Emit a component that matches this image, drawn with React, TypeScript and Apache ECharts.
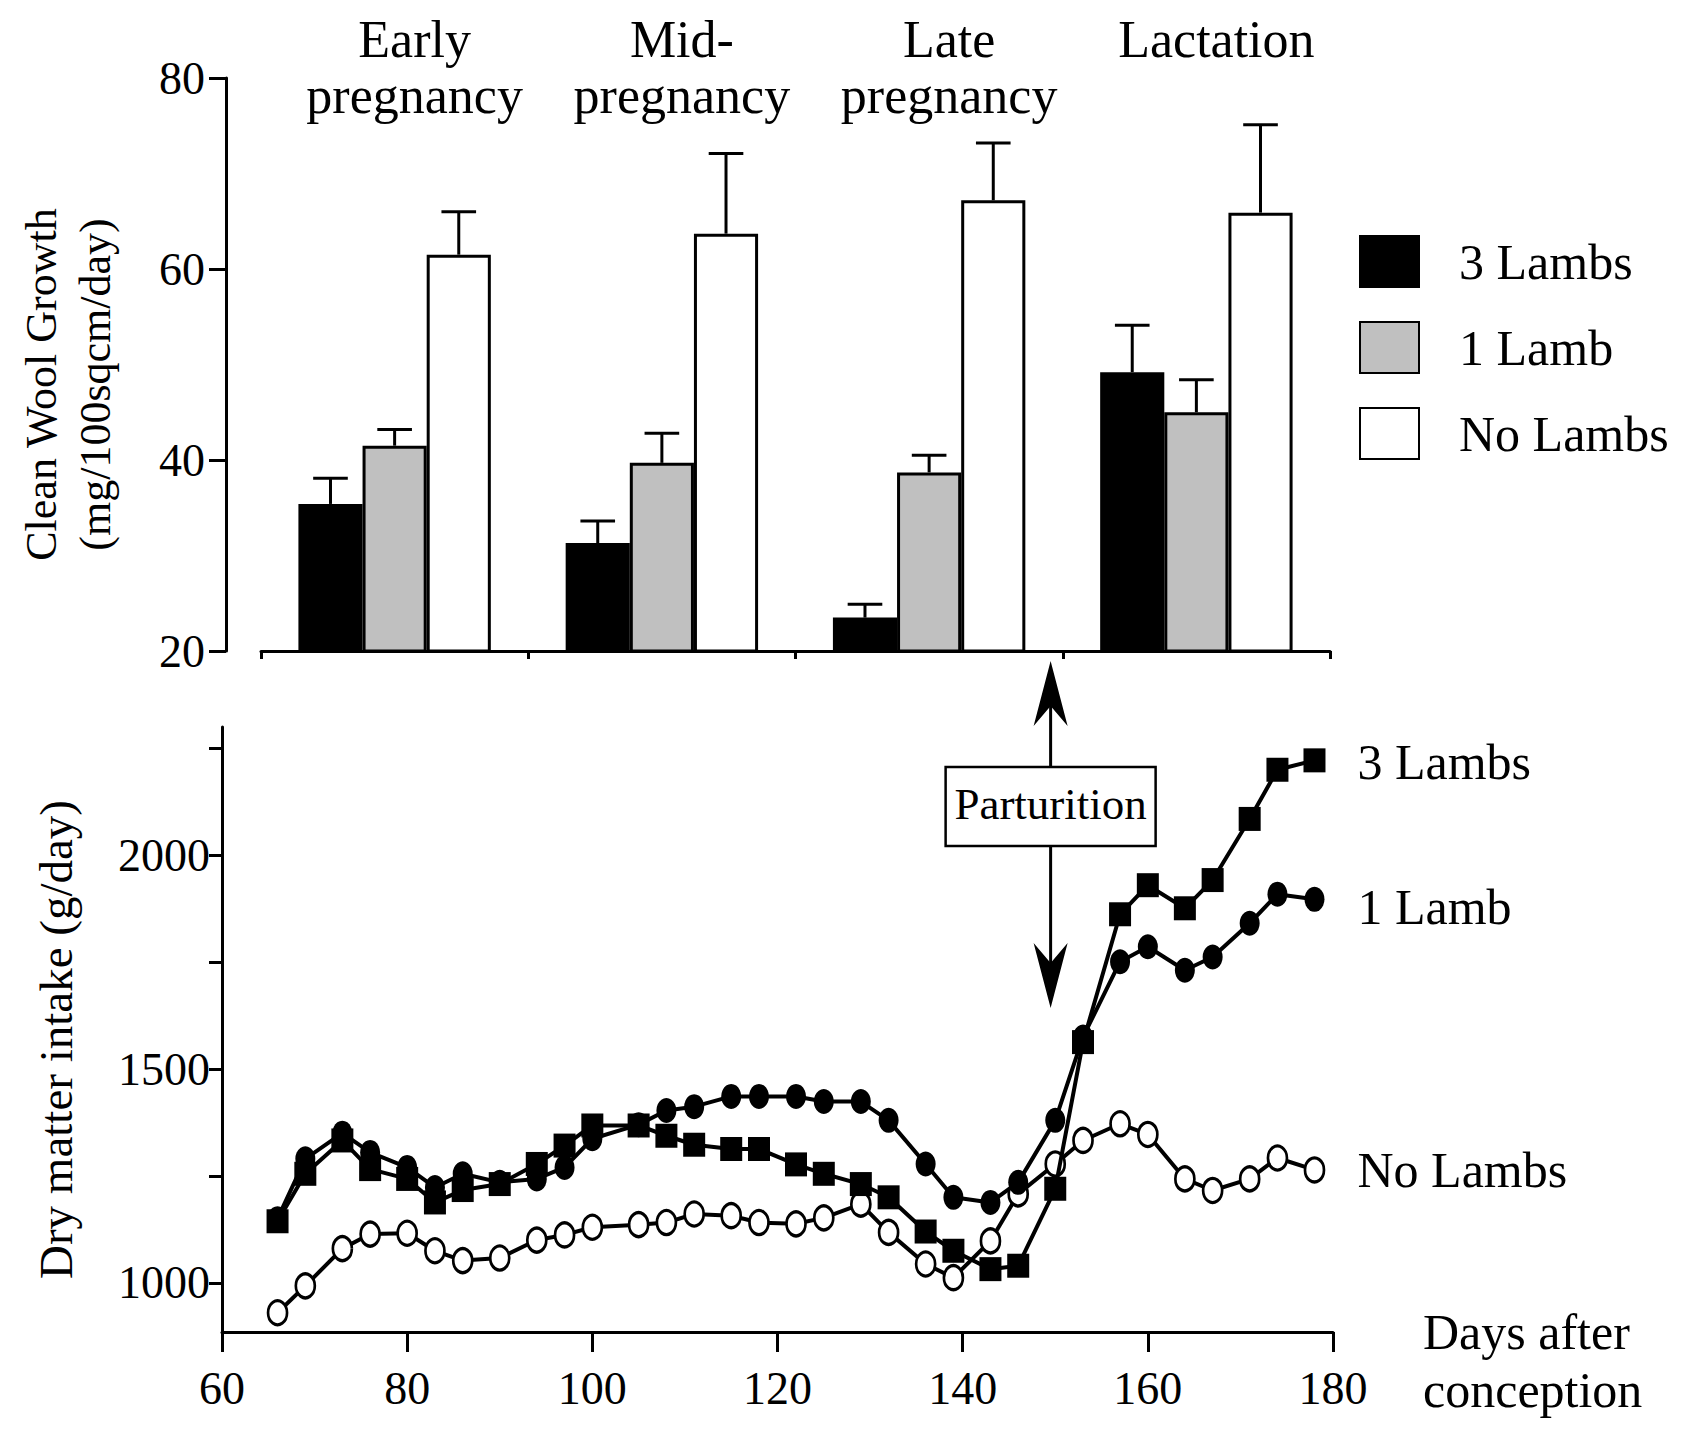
import React, { useEffect, useRef } from 'react';
import * as echarts from 'echarts';

// ---------- Top panel: clean wool growth (mg/100sqcm/day) ----------
const phases = ['Early\npregnancy', 'Mid-\npregnancy', 'Late\npregnancy', 'Lactation'];
const woolThreeLambs = [35.4, 31.3, 23.5, 49.2];
const woolThreeLambsSE = [2.7, 2.3, 1.4, 4.9];
const woolOneLamb = [41.5, 39.7, 38.7, 45.0];
const woolOneLambSE = [1.7, 3.1, 1.8, 3.4];
const woolNoLambs = [61.5, 63.7, 67.2, 65.9];
const woolNoLambsSE = [4.5, 8.4, 6.0, 9.2];
const groupNames = ['3 Lambs', '1 Lamb', 'No Lambs'];

// ---------- Bottom panel: dry matter intake (g/day) ----------
const days = [66, 69, 73, 76, 80, 83, 86, 90, 94, 97, 100, 105, 108, 111, 115, 118, 122, 125, 129, 132, 136, 139, 143, 146, 150, 153, 157, 160, 164, 167, 171, 174, 178];
const intakeThreeLambs = [1144, 1255, 1333, 1266, 1243, 1188, 1217, 1231, 1278, 1321, 1368, 1368, 1344, 1323, 1313, 1313, 1277, 1255, 1231, 1200, 1120, 1075, 1032, 1040, 1220, 1563, 1862, 1930, 1876, 1942, 2085, 2200, 2222];
const intakeOneLamb = [1150, 1290, 1350, 1305, 1270, 1223, 1255, 1235, 1243, 1270, 1337, 1370, 1403, 1412, 1436, 1436, 1436, 1424, 1424, 1380, 1278, 1200, 1188, 1235, 1380, 1575, 1751, 1786, 1731, 1762, 1841, 1909, 1897];
const intakeNoLambs = [930, 993, 1080, 1114, 1116, 1075, 1052, 1058, 1100, 1112, 1130, 1136, 1141, 1161, 1157, 1141, 1138, 1152, 1184, 1118, 1044, 1012, 1098, 1208, 1278, 1333, 1372, 1347, 1243, 1216, 1243, 1292, 1264];
const intakeTickValues = [1000, 1250, 1500, 1750, 2000, 2250];
const intakeLabelValues = [1000, 1500, 2000];
const parturitionDay = 149.5;

const FONT = "'Liberation Serif', 'Times New Roman', serif";
const W = 1694;
const H = 1434;
const TOP_GRID = { left: 261, top: 78, right: 364, bottom: 783 };
const LOW_GRID = { left: 222, top: 727, right: 361, bottom: 102 };
const BAR_CAT_GAP = 0.28;

function errorSeries(k: number, means: number[], se: number[]) {
  return {
    type: 'custom',
    name: groupNames[k] + ' SE',
    xAxisIndex: 0,
    yAxisIndex: 0,
    silent: true,
    z: 5,
    encode: { x: 0, y: [1, 2] },
    data: means.map((m, i) => [i, m, m + se[i]]),
    renderItem: (params: any, api: any) => {
      const cat = api.value(0);
      const top = api.value(1);
      const err = api.value(2);
      const band = api.size([1, 0])[0];
      const bw = (band * (1 - BAR_CAT_GAP)) / 3;
      const p0 = api.coord([cat, top]);
      const p1 = api.coord([cat, err]);
      const x = p0[0] + (k - 1) * bw;
      const cap = bw * 0.27;
      const st = { stroke: '#000', lineWidth: 3, fill: null };
      return {
        type: 'group',
        children: [
          { type: 'line', shape: { x1: x, y1: p0[1], x2: x, y2: p1[1] }, style: st },
          { type: 'line', shape: { x1: x - cap, y1: p1[1], x2: x + cap, y2: p1[1] }, style: st },
        ],
      };
    },
  };
}

function barSeries(k: number, data: number[], color: string) {
  return {
    type: 'bar',
    name: groupNames[k],
    xAxisIndex: 0,
    yAxisIndex: 0,
    data,
    barGap: '0%',
    barCategoryGap: BAR_CAT_GAP * 100 + '%',
    silent: true,
    itemStyle: { color, borderColor: '#000', borderWidth: 3 },
    emphasis: { disabled: true },
  };
}

function lineSeries(
  label: string,
  values: number[],
  symbol: string,
  size: number[],
  fill: string,
  z: number,
  labelOffset: number[]
) {
  return {
    type: 'line',
    name: label + ' intake',
    xAxisIndex: 2,
    yAxisIndex: 1,
    data: days.map((d, i) => [d, values[i]]),
    symbol,
    symbolSize: size,
    showAllSymbol: true,
    silent: true,
    z,
    lineStyle: { color: '#000', width: 4 },
    itemStyle: { color: fill, borderColor: '#000', borderWidth: fill === '#fff' ? 3 : 0 },
    emphasis: { disabled: true },
    endLabel: {
      show: true,
      formatter: label,
      distance: 43,
      offset: labelOffset,
      fontSize: 50,
      fontFamily: FONT,
      color: '#000',
    },
  };
}

export default function App() {
  const ref = useRef<HTMLDivElement>(null);

  useEffect(() => {
    const chart = echarts.init(ref.current!, null, { renderer: 'svg' });
    const axisLine = { show: true, lineStyle: { color: '#000', width: 3 } };
    const tickLbl = { color: '#000', fontSize: 46, fontFamily: FONT, formatter: (v: number) => String(v) };

    const option: any = {
      animation: false,
      backgroundColor: '#fff',
      textStyle: { fontFamily: FONT, color: '#000' },
      grid: [
        { ...TOP_GRID, containLabel: false, outerBoundsMode: 'none' },
        { ...LOW_GRID, containLabel: false, outerBoundsMode: 'none' },
      ],
      legend: {
        data: groupNames,
        orient: 'vertical',
        left: 1359,
        top: 235,
        padding: 0,
        itemWidth: 59,
        itemHeight: 51,
        itemGap: 33,
        icon: 'rect',
        selectedMode: false,
        textStyle: { fontSize: 50, fontFamily: FONT, color: '#000', padding: [0, 0, 0, 35] },
      },
      xAxis: [
        {
          type: 'category',
          gridIndex: 0,
          data: phases,
          position: 'bottom',
          axisLine,
          axisTick: { show: true, length: 8, lineStyle: { color: '#000', width: 3 } },
          axisLabel: { show: false },
          splitLine: { show: false },
        },
        {
          type: 'category',
          gridIndex: 0,
          data: phases,
          position: 'top',
          axisLine: { show: false },
          axisTick: { show: false },
          splitLine: { show: false },
          axisLabel: {
            show: true,
            interval: 0,
            verticalAlign: 'top',
            margin: 67,
            lineHeight: 56,
            fontSize: 52,
            fontFamily: FONT,
            color: '#000',
            padding: [0, 0, 0, 40],
          },
        },
        {
          type: 'value',
          gridIndex: 1,
          min: 60,
          max: 180,
          interval: 20,
          axisLine,
          axisTick: { show: true, length: 20, lineStyle: { color: '#000', width: 3 } },
          axisLabel: { ...tickLbl, margin: 33 },
          splitLine: { show: false },
          name: '\nDays after\nconception',
          nameLocation: 'end',
          nameGap: 90,
          nameMoveOverlap: false,
          nameTextStyle: {
            fontSize: 50,
            fontFamily: FONT,
            color: '#000',
            lineHeight: 58,
            align: 'left',
            verticalAlign: 'middle',
          },
        },
      ],
      yAxis: [
        {
          type: 'value',
          gridIndex: 0,
          min: 20,
          max: 80,
          interval: 20,
          offset: 35,
          axisLine,
          axisTick: { show: true, length: 17, lineStyle: { color: '#000', width: 3 } },
          axisLabel: { ...tickLbl, margin: 21 },
          splitLine: { show: false },
          name: 'Clean Wool Growth\n(mg/100sqcm/day)',
          nameLocation: 'middle',
          nameRotate: 90,
          nameGap: 104,
          nameMoveOverlap: false,
          nameTextStyle: {
            fontSize: 44,
            fontFamily: FONT,
            color: '#000',
            lineHeight: 54,
            padding: [0, 40, 0, 0],
          },
        },
        {
          type: 'value',
          gridIndex: 1,
          min: 885,
          max: 2300,
          axisLine,
          axisTick: {
            show: true,
            length: 13,
            customValues: intakeTickValues,
            lineStyle: { color: '#000', width: 3 },
          },
          axisLabel: { ...tickLbl, margin: 12, customValues: intakeLabelValues },
          splitLine: { show: false },
          name: 'Dry matter intake (g/day)',
          nameLocation: 'middle',
          nameRotate: 90,
          nameGap: 139,
          nameMoveOverlap: false,
          nameTextStyle: {
            fontSize: 47,
            fontFamily: FONT,
            color: '#000',
            lineHeight: 54,
            padding: [0, 20, 0, 0],
          },
        },
      ],
      series: [
        barSeries(0, woolThreeLambs, '#000000'),
        barSeries(1, woolOneLamb, '#c0c0c0'),
        barSeries(2, woolNoLambs, '#ffffff'),
        errorSeries(0, woolThreeLambs, woolThreeLambsSE),
        errorSeries(1, woolOneLamb, woolOneLambSE),
        errorSeries(2, woolNoLambs, woolNoLambsSE),
        lineSeries('No Lambs', intakeNoLambs, 'circle', [19, 24], '#fff', 3, [0, 0]),
        lineSeries('1 Lamb', intakeOneLamb, 'circle', [20, 25], '#000', 4, [0, 8]),
        lineSeries('3 Lambs', intakeThreeLambs, 'rect', [22, 24], '#000', 5, [0, 2]),
      ],
    };
    chart.setOption(option);

    // Parturition annotation placed on the day axis of the lower panel
    const px = chart.convertToPixel({ xAxisIndex: 2 }, parturitionDay) as number;
    const upTip = 661;
    const downTip = 1008;
    const headLen = 65;
    const notch = 45;
    const half = 17;
    chart.setOption({
      graphic: [
        {
          type: 'line',
          silent: true,
          shape: { x1: px, y1: upTip + 20, x2: px, y2: downTip - 20 },
          style: { stroke: '#000', lineWidth: 3 },
          z: 10,
        },
        {
          type: 'polygon',
          silent: true,
          shape: { points: [[px, upTip], [px + half, upTip + headLen], [px, upTip + notch], [px - half, upTip + headLen]] },
          style: { fill: '#000' },
          z: 10,
        },
        {
          type: 'polygon',
          silent: true,
          shape: { points: [[px, downTip], [px + half, downTip - headLen], [px, downTip - notch], [px - half, downTip - headLen]] },
          style: { fill: '#000' },
          z: 10,
        },
        {
          type: 'rect',
          silent: true,
          shape: { x: px - 105, y: 767, width: 210, height: 79 },
          style: { fill: '#fff', stroke: '#000', lineWidth: 2.5 },
          z: 11,
        },
        {
          type: 'text',
          silent: true,
          x: px,
          y: 804,
          style: {
            text: 'Parturition',
            fill: '#000',
            font: `45px ${FONT}`,
            align: 'center',
            verticalAlign: 'middle',
          },
          z: 12,
        },
      ],
    });

    return () => chart.dispose();
  }, []);

  return (
    <div
      ref={ref}
      style={{ position: 'fixed', left: 0, top: 0, width: W, height: H, background: '#fff' }}
    />
  );
}
